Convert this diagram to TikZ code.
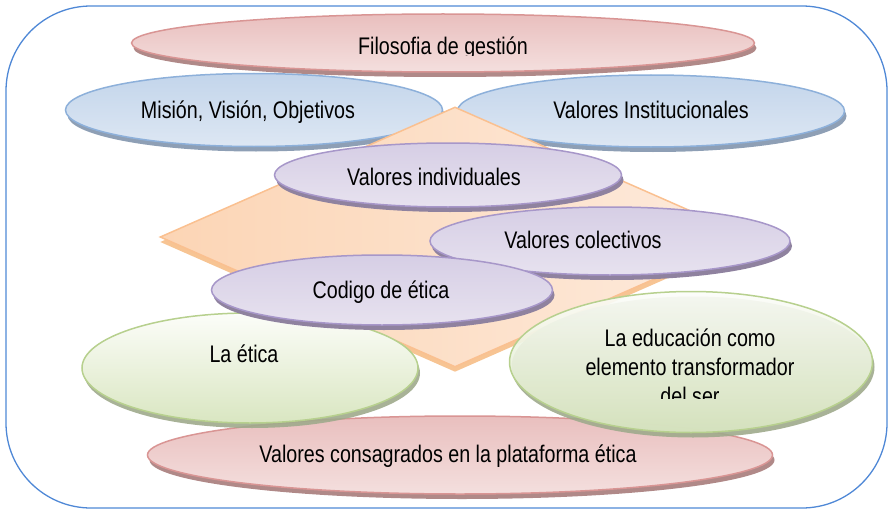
\documentclass[tikz,border=0pt]{standalone}
\usepackage{fontspec}
\setmainfont[FakeStretch=0.82]{Liberation Sans}
\usetikzlibrary{shapes.geometric,shadows}

\definecolor{marco}{HTML}{4F88D6}
\definecolor{rojoBorde}{HTML}{D99594}
\definecolor{rojoArriba}{HTML}{E9BFBE}
\definecolor{rojoAbajo}{HTML}{F4DFDE}
\definecolor{rojoSombra}{HTML}{B08988}
\definecolor{azulBorde}{HTML}{8DB0DA}
\definecolor{azulArriba}{HTML}{C3D5EB}
\definecolor{azulAbajo}{HTML}{DDE7F3}
\definecolor{azulSombra}{HTML}{8E9FB5}
\definecolor{moradoBorde}{HTML}{A797C9}
\definecolor{moradoArriba}{HTML}{D6CEE5}
\definecolor{moradoAbajo}{HTML}{E7E2EF}
\definecolor{moradoSombra}{HTML}{8F829F}
\definecolor{verdeBorde}{HTML}{B7D08E}
\definecolor{verdeArriba}{HTML}{FCFDF9}
\definecolor{verdeAbajo}{HTML}{D9E6C1}
\definecolor{verdeSombra}{HTML}{9FAA8C}
\definecolor{naranjaBorde}{HTML}{FAC090}
\definecolor{naranjaArriba}{HTML}{FCD5B5}
\definecolor{naranjaAbajo}{HTML}{FDEBDD}
\definecolor{naranjaSombra}{HTML}{F7C493}

\tikzset{
  burbuja/.style={ellipse, inner sep=0pt, line width=1.5pt},
  rojo/.style={burbuja, draw=rojoBorde, top color=rojoArriba, bottom color=rojoAbajo,
    drop shadow={shadow xshift=2pt, shadow yshift=-5pt, fill=rojoSombra, opacity=1}},
  azul/.style={burbuja, draw=azulBorde, top color=azulArriba, bottom color=azulAbajo,
    drop shadow={shadow xshift=2pt, shadow yshift=-5pt, fill=azulSombra, opacity=1}},
  morado/.style={burbuja, draw=moradoBorde, top color=moradoArriba, bottom color=moradoAbajo,
    drop shadow={shadow xshift=2pt, shadow yshift=-5pt, fill=moradoSombra, opacity=1}},
  verde/.style={burbuja, draw=verdeBorde, top color=verdeArriba, bottom color=verdeAbajo,
    drop shadow={shadow xshift=2pt, shadow yshift=-5pt, fill=verdeSombra, opacity=.9}},
  texto/.style={font=\fontsize{24}{29}\selectfont, inner sep=0pt, align=center},
}

\begin{document}
\begin{tikzpicture}[x=1pt, y=-1pt]
  \useasboundingbox (0,0) rectangle (889,511);
  \draw[marco, line width=1.3pt, rounded corners=85pt] (6,6) rectangle (887,508);

  % fila superior
  \node[rojo, minimum width=623pt, minimum height=58pt] (filosofia) at (443,43) {};
  \begin{scope}
    \clip (120,10) rectangle (770,55.5);
    \node[texto, anchor=base] (t-filosofia) at (443,55) {Filosofia de gestión};
  \end{scope}
  \node[azul, minimum width=377pt, minimum height=73pt] (mision) at (254,110) {};
  \node[texto, anchor=base] (t-mision) at (248,118) {Misión, Visión, Objetivos};
  \node[azul, minimum width=387pt, minimum height=72pt] (instit) at (651,111) {};
  \node[texto, anchor=base] (t-instit) at (651,118) {Valores Institucionales};

  % rombo
  \node[diamond, inner sep=0pt, minimum width=590pt, minimum height=260pt,
    line width=1.5pt, draw=naranjaBorde, left color=naranjaArriba, right color=naranjaAbajo,
    drop shadow={shadow xshift=0pt, shadow yshift=-5pt, fill=naranjaSombra, opacity=1}]
    (rombo) at (455,237) {};

  \node[morado, minimum width=347pt, minimum height=64pt] (individ) at (448,175) {};
  \node[texto, anchor=base] (t-individ) at (434,185) {Valores individuales};

  % fila inferior
  \node[rojo, minimum width=625pt, minimum height=78pt] (consagr) at (460,455) {};
  \node[texto, anchor=base] (t-consagr) at (448,462) {Valores consagrados en la plataforma ética};
  \node[verde, minimum width=336pt, minimum height=110pt] (etica) at (250,368) {};
  \node[texto, anchor=base] (t-etica) at (244,362) {La ética};
  \node[verde, fill opacity=.92, minimum width=363pt, minimum height=141pt] (educa) at (691,362) {};
  \begin{scope}
    \clip (520,300) rectangle (860,398);
    \node[texto] (t-educa) at (690,367) {La educación como\\elemento transformador\\del ser};
  \end{scope}

  \node[morado, minimum width=360pt, minimum height=68pt] (colect) at (610,241) {};
  \node[texto, anchor=base] (t-colect) at (583,248) {Valores colectivos};
  \node[morado, minimum width=341pt, minimum height=70pt] (codigo) at (382,290) {};
  \node[texto, anchor=base] (t-codigo) at (381,298) {Codigo de ética};
\end{tikzpicture}
\end{document}
